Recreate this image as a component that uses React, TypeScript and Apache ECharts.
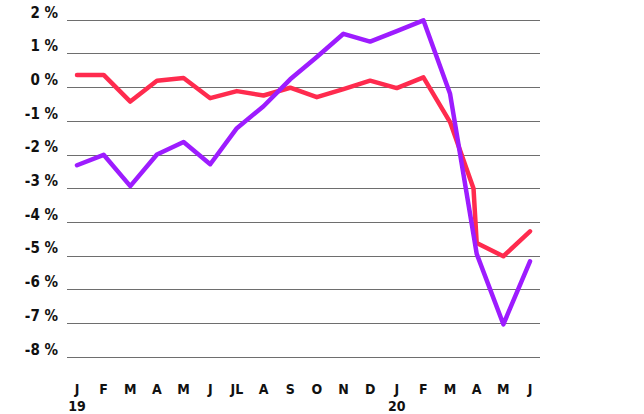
import React, { useEffect, useRef } from "react";
import * as echarts from "echarts";

const monthLabels = ["J", "F", "M", "A", "M", "J", "JL", "A", "S", "O", "N", "D", "J", "F", "M", "A", "M", "J"];
const yearIndex = [0, 12];
const yearLabels = ["19", "20"];
const yTicks = [2, 1, 0, -1, -2, -3, -4, -5, -6, -7, -8];

// red series: [month index, value] (April 2020 has a sharp intra-month drop)
const redSeries: [number, number][] = [
  [0, 0.37], [1, 0.37], [2, -0.42], [3, 0.2], [4, 0.28], [5, -0.32], [6, -0.11],
  [7, -0.24], [8, -0.01], [9, -0.29], [10, -0.05], [11, 0.2], [12, -0.02], [13, 0.3],
  [14, -1.03], [14.88, -3.0], [15, -4.62], [16, -5.01], [17, -4.27],
];
const purpleValues = [
  -2.31, -2.0, -2.93, -1.99, -1.62, -2.28, -1.21, -0.56, 0.24, 0.9, 1.59, 1.36,
  1.67, 1.99, -0.19, -4.94, -7.03, -5.16,
];

const FONT = "'Liberation Sans Narrow', 'DejaVu Sans Condensed', 'Roboto Condensed', sans-serif";

export default function App() {
  const ref = useRef<HTMLDivElement>(null);
  useEffect(() => {
    if (!ref.current) return;
    const chart = echarts.init(ref.current, null, { renderer: "svg" });
    const baseX = {
      type: "value",
      min: -0.375,
      max: 17.375,
      splitLine: { show: false },
      axisLine: { show: false },
      axisTick: { show: false },
    };
    chart.setOption({
      animation: false,
      backgroundColor: "#ffffff",
      grid: { left: 67, right: 104, top: 20, bottom: 57, containLabel: false },
      xAxis: [
        {
          ...baseX,
          axisLabel: {
            customValues: monthLabels.map((_, i) => i),
            formatter: (v: number) => monthLabels[Math.round(v)] ?? "",
            fontFamily: FONT,
            fontWeight: "bold",
            fontSize: 14,
            lineHeight: 14,
            color: "#111",
            margin: 25,
            verticalAlign: "top",
          },
        },
        {
          ...baseX,
          position: "bottom",
          axisLabel: {
            customValues: yearIndex,
            formatter: (v: number) => yearLabels[yearIndex.indexOf(Math.round(v))] ?? "",
            fontFamily: FONT,
            fontWeight: "bold",
            fontSize: 14,
            lineHeight: 14,
            color: "#111",
            margin: 42,
            verticalAlign: "top",
          },
        },
      ],
      yAxis: {
        type: "value",
        min: yTicks[yTicks.length - 1],
        max: yTicks[0],
        interval: 1,
        axisLine: { show: false },
        axisTick: { show: false },
        splitLine: { show: true, lineStyle: { color: "#6e6e6e", width: 1.2 } },
        axisLabel: {
          formatter: (v: number) => `${v} %`,
          fontFamily: FONT,
          fontWeight: "bold",
          fontSize: 15,
          color: "#111",
          margin: 9,
          verticalAlign: "bottom",
        },
      },
      series: [
        {
          type: "line",
          data: redSeries,
          symbol: "none",
          lineStyle: { color: "#ff2b4e", width: 4.5, cap: "round", join: "round" },
          z: 2,
        },
        {
          type: "line",
          data: purpleValues.map((v, i) => [i, v]),
          symbol: "none",
          lineStyle: { color: "#9d1cff", width: 4.5, cap: "round", join: "round" },
          z: 3,
        },
      ],
    });
    return () => chart.dispose();
  }, []);
  return <div ref={ref} style={{ width: 644, height: 414, position: "absolute", left: 0, top: 0 }} />;
}
